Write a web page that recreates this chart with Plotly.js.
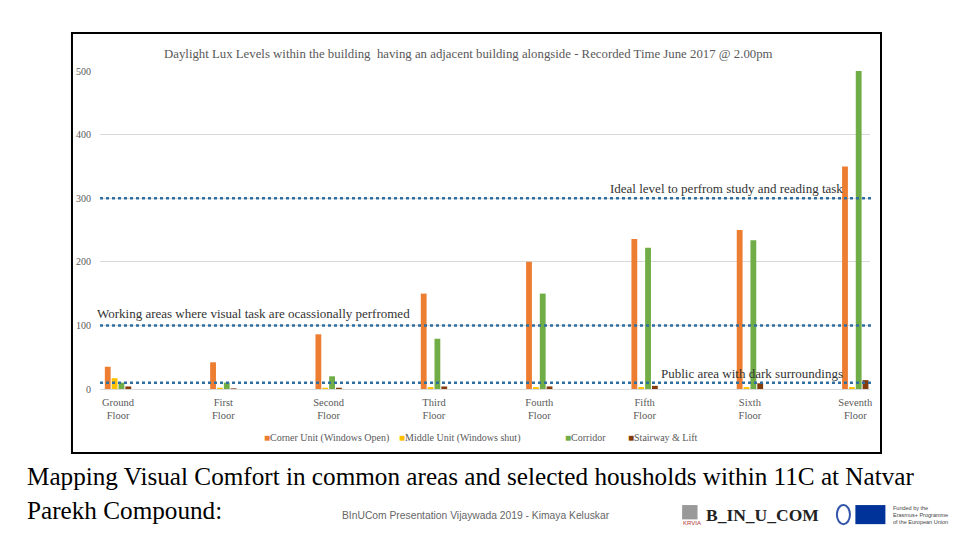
<!DOCTYPE html>
<html>
<head>
<meta charset="utf-8">
<script src="https://cdn.plot.ly/plotly-3.0.1.min.js"></script>
<style>
html,body{margin:0;padding:0;background:#fff;}
#chart{width:960px;height:540px;}
</style>
</head>
<body>
<div id="chart"></div>
<script>
var floors = ["Ground<br>Floor","First<br>Floor","Second<br>Floor","Third<br>Floor","Fourth<br>Floor","Fifth<br>Floor","Sixth<br>Floor","Seventh<br>Floor"];
var cornerUnit = [35, 42, 86, 150, 200, 236, 250, 350];
var middleUnit = [17, 2, 2, 3, 3, 3, 3, 3];
var corridor = [10, 10, 20, 79, 150, 222, 234, 500];
var stairway = [4, 1, 2, 4, 4, 5, 9, 14];
var seriesNames = ["Corner Unit (Windows Open)", "Middle Unit (Windows shut)", "Corridor", "Stairway & Lift"];
var seriesColors = ["#ED7D31", "#FFC000", "#70AD47", "#843C0C"];
var refLevels = [300, 100, 10];
var refLabels = ["Ideal level to perfrom study and reading task", "Working areas where visual task are ocassionally perfromed", "Public area with dark surroundings"];

var serif = "Liberation Serif, Times New Roman, serif";
var allSeries = [cornerUnit, middleUnit, corridor, stairway];
var xIdx = floors.map(function(_, i){ return i; });
var traces = allSeries.map(function(vals, k){
  return {type:"bar", x:xIdx, y:vals, name:seriesNames[k], marker:{color:seriesColors[k]}, hoverinfo:"x+y", showlegend:false};
});

var shapes = [
  {type:"rect", xref:"paper", yref:"paper", x0:-0.0364, x1:1.0143, y0:-0.2013, y1:1.1195, line:{color:"#000", width:2}, fillcolor:"rgba(0,0,0,0)", layer:"below"}
];
refLevels.forEach(function(v){
  shapes.push({type:"line", xref:"paper", yref:"y", x0:0, x1:1.003, y0:v, y1:v, line:{color:"#2F6EA0", width:2.5, dash:"dot"}});
});

var annotations = [
  {text:"Daylight Lux Levels within the building  having an adjacent building alongside - Recorded Time June 2017 @ 2.00pm", xref:"paper", yref:"paper", x:0.478, y:1.054, xanchor:"center", yanchor:"middle", showarrow:false, font:{family:serif, size:12.8, color:"#595959"}},
  {text:refLabels[0], xref:"paper", yref:"y", x:0.967, y:refLevels[0], xanchor:"right", yanchor:"bottom", yshift:0, showarrow:false, font:{family:serif, size:13, color:"#333"}},
  {text:refLabels[1], xref:"paper", yref:"y", x:-0.006, y:refLevels[1], xanchor:"left", yanchor:"bottom", yshift:2, showarrow:false, font:{family:serif, size:13, color:"#333"}},
  {text:refLabels[2], xref:"paper", yref:"y", x:0.967, y:refLevels[2], xanchor:"right", yanchor:"bottom", yshift:0, showarrow:false, font:{family:serif, size:13, color:"#333"}},
  {text:"Mapping Visual Comfort in common areas and selected housholds within 11C at Natvar", xref:"paper", yref:"paper", x:-0.0975, y:-0.276, xanchor:"left", yanchor:"middle", showarrow:false, font:{family:serif, size:25.2, color:"#000"}},
  {text:"Parekh Compound:", xref:"paper", yref:"paper", x:-0.0975, y:-0.381, xanchor:"left", yanchor:"middle", showarrow:false, font:{family:serif, size:25.2, color:"#000"}},
  {text:"BInUCom Presentation Vijaywada 2019 - Kimaya Keluskar", xref:"paper", yref:"paper", x:0.312, y:-0.398, xanchor:"left", yanchor:"middle", showarrow:false, font:{family:"Liberation Sans Narrow, Arial Narrow, Liberation Sans, sans-serif", size:10.3, color:"#666"}},
  {text:"<b>B_IN_U_COM</b>", xref:"paper", yref:"paper", x:0.785, y:-0.395, xanchor:"left", yanchor:"middle", showarrow:false, font:{family:serif, size:17.5, color:"#222"}},
  {text:"KRVIA", xref:"paper", yref:"paper", x:0.754, y:-0.42, xanchor:"left", yanchor:"middle", showarrow:false, font:{family:"Liberation Sans, sans-serif", size:6, color:"#b03030"}},
  {text:"Funded by the<br>Erasmus+ Programme<br>of the European Union", xref:"paper", yref:"paper", x:1.027, y:-0.395, xanchor:"left", yanchor:"middle", align:"left", showarrow:false, font:{family:"Liberation Sans, sans-serif", size:5.5, color:"#444"}}
];
// manual compact legend
var legendX = [0.2104, 0.3857, 0.6013, 0.6831];
seriesNames.forEach(function(n, k){
  annotations.push({text:"<span style='color:" + seriesColors[k] + "'>■</span>" + n, xref:"paper", yref:"paper", x:legendX[k], y:-0.154, xanchor:"left", yanchor:"middle", showarrow:false, font:{family:serif, size:10, color:"#595959"}});
});
// logo shapes
shapes.push({type:"rect", xref:"paper", yref:"paper", x0:0.981, x1:1.02, y0:-0.425, y1:-0.365, fillcolor:"#003399", line:{width:0}});
shapes.push({type:"circle", xref:"paper", yref:"paper", x0:0.957, x1:0.974, y0:-0.425, y1:-0.365, fillcolor:"rgba(0,0,0,0)", line:{color:"#3355aa", width:2}});
shapes.push({type:"rect", xref:"paper", yref:"paper", x0:0.756, x1:0.776, y0:-0.41, y1:-0.365, fillcolor:"#999", line:{width:0}});

var layout = {
  width:960, height:540,
  margin:{l:100, r:90, t:71, b:151},
  paper_bgcolor:"#fff", plot_bgcolor:"#fff",
  barmode:"group", bargap:0.74, bargroupgap:0.15,
  showlegend:false,
  xaxis:{tickmode:"array", tickvals:xIdx, ticktext:floors, range:[-0.171, 7.14], showgrid:false, zeroline:false, showline:false, ticks:"", ticklabelstandoff:5, tickfont:{family:serif, size:10.5, color:"#595959"}, fixedrange:true},
  yaxis:{range:[0, 500], dtick:100, showgrid:true, gridcolor:"#D9D9D9", gridwidth:1, zeroline:true, zerolinecolor:"#D9D9D9", zerolinewidth:1, showline:false, ticks:"", ticklabelstandoff:8, tickfont:{family:serif, size:10, color:"#595959"}, fixedrange:true},
  shapes:shapes,
  annotations:annotations
};
Plotly.newPlot("chart", traces, layout, {displayModeBar:false, staticPlot:true});
</script>
</body>
</html>
